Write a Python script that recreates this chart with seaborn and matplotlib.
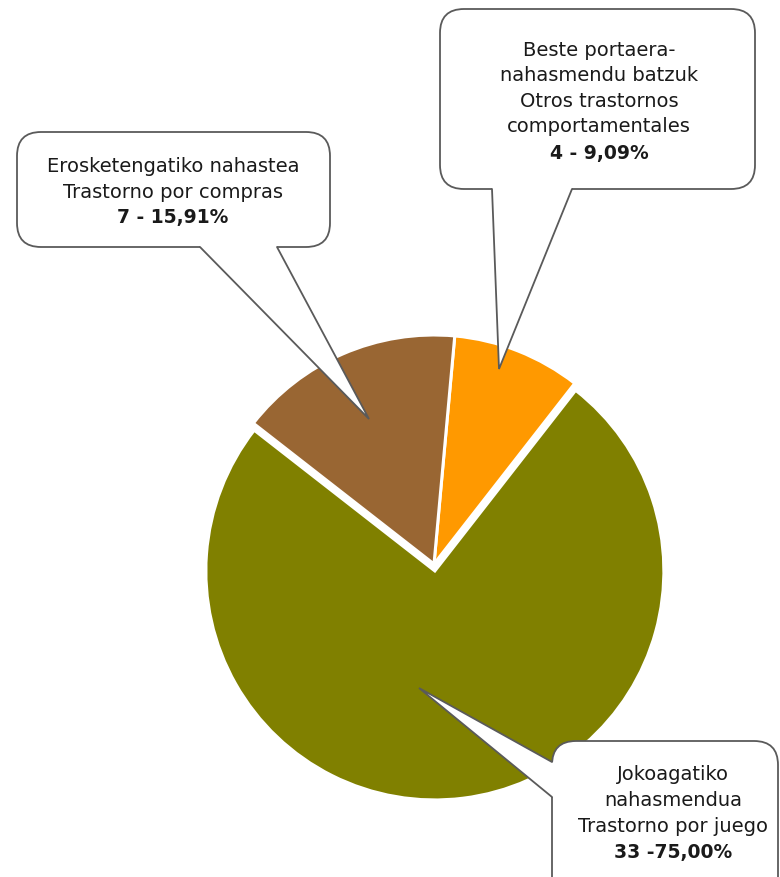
import matplotlib
matplotlib.use("Agg")
import matplotlib.pyplot as plt
import seaborn as sns
from matplotlib.patches import FancyBboxPatch, Polygon
from matplotlib.lines import Line2D

sns.set_theme(style="white")
plt.rcParams['font.family'] = ['DejaVu Sans']

# ---- data ----
categories_eu = ["Beste portaera-\nnahasmendu batzuk", "Jokoagatiko\nnahasmendua", "Erosketengatiko nahastea"]
categories_es = ["Otros trastornos\ncomportamentales", "Trastorno por juego", "Trastorno por compras"]
counts = [4, 33, 7]
pct_labels = ["4 - 9,09%", "33 -75,00%", "7 - 15,91%"]
colors = ["#FF9900", "#808000", "#996633"]

W, H = 780, 878
fig = plt.figure(figsize=(W / 100, H / 100), dpi=100)
ax = fig.add_axes([0, 0, 1, 1])

def Y(y):
    return H - y

ax.pie(counts, colors=sns.color_palette(colors), startangle=84.8, counterclock=False,
       explode=[0, 7, 0], center=(434, Y(565)), radius=229, frame=True,
       wedgeprops=dict(edgecolor="white", linewidth=2.2))
ax.set_xlim(0, W)
ax.set_ylim(0, H)
ax.set_aspect("equal")
ax.axis("off")

EC = "#5a5a5a"
LW = 1.3

def callout(x0, y0, x1, y1, b1, b2, tip, side="bottom"):
    box = FancyBboxPatch((x0, Y(y1)), x1 - x0, y1 - y0,
                         boxstyle="round,pad=0,rounding_size=24",
                         facecolor="white", edgecolor=EC, linewidth=LW, zorder=5)
    ax.add_patch(box)
    if side == "bottom":
        p1 = (b1, Y(y1)); p2 = (b2, Y(y1))
        q1 = (b1, Y(y1 - 3)); q2 = (b2, Y(y1 - 3))
    else:  # left
        p1 = (x0, Y(b1)); p2 = (x0, Y(b2))
        q1 = (x0 + 3, Y(b1)); q2 = (x0 + 3, Y(b2))
    t = (tip[0], Y(tip[1]))
    ax.add_patch(Polygon([q1, p1, t, p2, q2], closed=True, facecolor="white",
                         edgecolor="none", zorder=6))
    ax.add_line(Line2D([p1[0], t[0], p2[0]], [p1[1], t[1], p2[1]],
                       color=EC, linewidth=LW, zorder=7, solid_joinstyle="miter"))

callout(17, 133, 330, 248, 200, 277, (369, 420))
callout(440, 10, 755, 190, 492, 572, (499, 370))
callout(552, 742, 778, 920, 763, 798, (419, 689), side="left")

FS = 14
def lines_text(cx, ys, texts, bold_last=True):
    for i, (yy, tx) in enumerate(zip(ys, texts)):
        last = bold_last and i == len(texts) - 1
        ax.text(cx, Y(yy), tx, ha="center", va="center",
                fontsize=13.5 if last else FS,
                color="#1a1a1a", fontweight="bold" if last else "normal",
                zorder=10)

# brown
lines_text(173, [167, 193, 218], [categories_eu[2], categories_es[2], pct_labels[2]])
# orange
eu0 = categories_eu[0].split("\n"); es0 = categories_es[0].split("\n")
lines_text(599, [50, 75, 101, 127, 153], eu0 + es0 + [pct_labels[0]])
# green
eu1 = categories_eu[1].split("\n")
lines_text(673, [775, 801, 827, 853], eu1 + [categories_es[1], pct_labels[1]])

fig.savefig("out.png", dpi=100, facecolor="white")
